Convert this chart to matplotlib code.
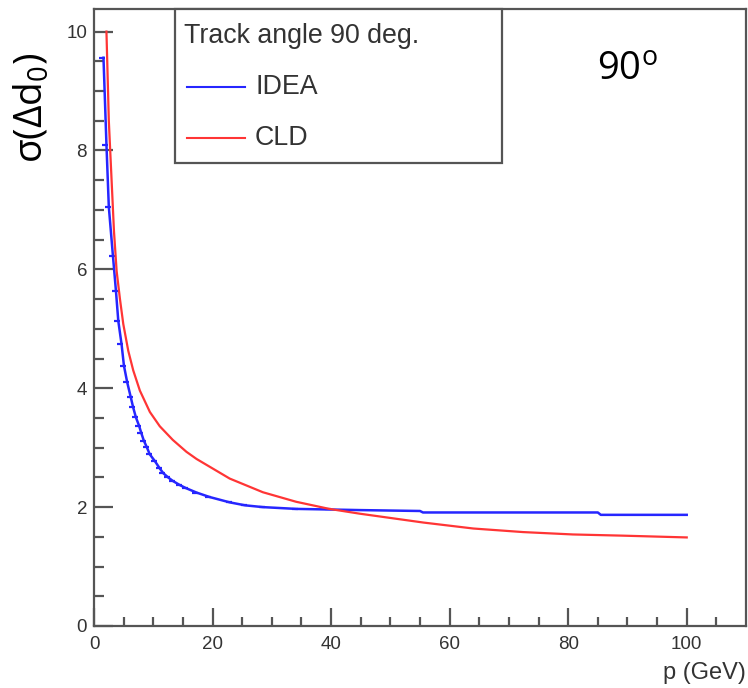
import numpy as np
import matplotlib.pyplot as plt
from matplotlib.patches import Rectangle
from matplotlib.lines import Line2D

plt.rcParams['font.family'] = ['Liberation Sans', 'DejaVu Sans']
plt.rcParams['mathtext.fontset'] = 'custom'
plt.rcParams['mathtext.rm'] = 'Open Sans'

# IDEA: rozdzielczosc d0 w funkcji pedu (krok histogramu widoczny przy malych p)
p_idea = [1.6, 2.1, 2.5, 3.2, 3.7, 4.1, 4.65, 5.05, 5.6, 6.2, 6.6, 7.07, 7.6, 8.0,
          8.4, 8.9, 9.4, 10.3, 11.1, 11.7, 12.5, 13.3, 14.5, 15.5, 17.3, 19.5,
          22.9, 25.5, 28.5, 34.1, 39.7, 44.8, 55.0, 55.5, 85.0, 85.5, 100.0]
s_idea = [9.56, 8.10, 7.05, 6.22, 5.64, 5.13, 4.74, 4.38, 4.10, 3.85, 3.68, 3.51, 3.37, 3.24,
          3.12, 3.01, 2.89, 2.77, 2.65, 2.57, 2.50, 2.44, 2.37, 2.32, 2.245, 2.17,
          2.08, 2.03, 2.00, 1.97, 1.96, 1.95, 1.935, 1.91, 1.91, 1.87, 1.87]

# CLD
p_cld = [2.1, 2.5, 3.37, 3.82, 4.38, 4.94, 5.78, 6.62, 7.74, 9.43, 11.1, 13.3,
         15.6, 17.3, 22.9, 28.5, 34.1, 39.7, 44.8, 55.6, 64.0, 72.4, 80.8, 89.2, 100.0]
s_cld = [10.0, 8.5, 6.64, 5.97, 5.50, 5.08, 4.63, 4.30, 3.96, 3.60, 3.36, 3.13,
         2.93, 2.81, 2.48, 2.25, 2.09, 1.97, 1.89, 1.74, 1.64, 1.58, 1.54, 1.52, 1.49]

names = ['IDEA', 'CLD']
colors = ['#2626ff', '#ff3535']
title = 'Track angle 90 deg.'

W, H = 748, 688
fig = plt.figure(figsize=(W / 100, H / 100), dpi=100)
ax = fig.add_axes([94 / W, 1 - 626 / H, (746 - 94) / W, (626 - 9) / H])

p_idea = np.array(p_idea)
s_idea = np.array(s_idea)
ax.plot(p_idea, s_idea, color=colors[0], lw=1.8)
low = p_idea < 40
ax.plot(p_idea[low] - 0.2, s_idea[low], ls='none', marker='_', ms=4, mew=1.6,
        color=colors[0])
ax.plot(p_cld, s_cld, color=colors[1], lw=1.6)

ax.set_xlim(0, 110)
ax.set_ylim(0, 10.38)
ax.set_xticks(np.arange(0, 101, 20))
ax.set_xticks(np.arange(0, 106, 5), minor=True)
ax.set_yticks(np.arange(0, 11, 2))
ax.set_yticks(np.arange(0, 10.1, 0.5), minor=True)

frame = '#555555'
for s in ax.spines.values():
    s.set_color(frame)
    s.set_linewidth(1.6)
ax.tick_params(which='both', direction='in', color=frame, width=1.6,
               top=False, right=False, labelsize=13.5, labelcolor='#333333')
ax.tick_params(axis='x', which='major', length=13, pad=7)
ax.tick_params(axis='x', which='minor', length=6.5)
ax.tick_params(axis='y', which='major', length=14, pad=5)
ax.tick_params(axis='y', which='minor', length=7)

fig.text(746 / W, 1 - 673 / H, 'p (GeV)', ha='right', va='center',
         fontsize=17, color='#333333')

# legenda w ramce przy gornej krawedzi
fig.add_artist(Rectangle((175 / W, 1 - 163 / H), 327 / W, 154 / H,
                         transform=fig.transFigure, fill=True, facecolor='white',
                         edgecolor=frame, lw=1.6, zorder=5))
fig.text(184 / W, 1 - 36 / H, title, ha='left', va='center', fontsize=19.3,
         color='#333333', zorder=6)
for name, c, y in zip(names, colors, [87, 138]):
    fig.add_artist(Line2D([187 / W, 245 / W], [1 - y / H, 1 - y / H],
                          transform=fig.transFigure, color=c, lw=1.5, zorder=6))
    fig.text(255 / W, 1 - y / H, name, ha='left', va='center', fontsize=19.3,
             color='#333333', zorder=6)

fig.text(32 / W, 1 - 108 / H, r'σ(Δd$_0$)', rotation=90, ha='center', va='center',
         fontsize=28, family='Open Sans')
fig.text(597 / W, 1 - 80 / H, r'90$^{\mathrm{o}}$', ha='left', va='baseline',
         fontsize=27.5, family='Open Sans')

fig.savefig('out.png', dpi=100)
